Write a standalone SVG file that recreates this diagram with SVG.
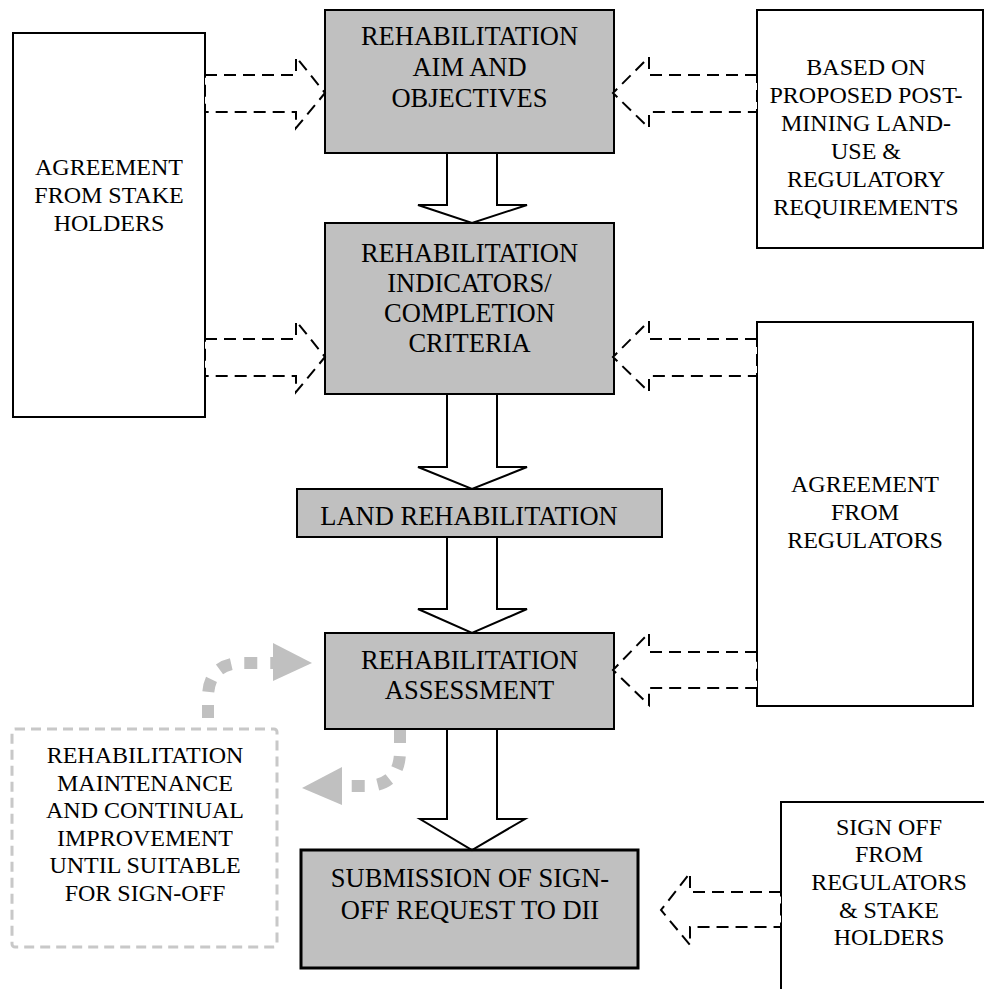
<svg xmlns="http://www.w3.org/2000/svg" width="984" height="989" viewBox="0 0 984 989" font-family="'Liberation Serif', 'Times New Roman', Times, serif">
<style>
text{fill:#000;text-anchor:middle}
.g{font-size:26.5px}
.w{font-size:24px}
.gb{fill:#c0c0c0;stroke:#000;stroke-width:2}
.wb{fill:#fff;stroke:#000;stroke-width:2}
.blk{fill:none;stroke:#000;stroke-width:2;stroke-linejoin:miter}
.da{fill:#fff;stroke:#000;stroke-width:2;stroke-dasharray:12 7}
.dot{fill:none;stroke:#c0c0c0;stroke-width:12;stroke-dasharray:13 13}
.hd{fill:#c0c0c0;stroke:none}
</style>
<rect width="984" height="989" fill="#fff"/>
<g id="stake">
<rect class="wb" x="13" y="33" width="192" height="384"/>
<text class="w" x="109" y="175">AGREEMENT</text>
<text class="w" x="109" y="203">FROM STAKE</text>
<text class="w" x="109" y="231">HOLDERS</text>
</g>
<g id="aim">
<rect class="gb" x="325" y="10" width="289" height="143"/>
<text class="g" x="469.5" y="45">REHABILITATION</text>
<text class="g" x="469.5" y="76">AIM AND</text>
<text class="g" x="469.5" y="107">OBJECTIVES</text>
</g>
<g id="based">
<rect class="wb" x="757" y="10" width="226" height="238"/>
<text class="w" x="866" y="75">BASED ON</text>
<text class="w" x="866" y="103">PROPOSED POST-</text>
<text class="w" x="866" y="131">MINING LAND-</text>
<text class="w" x="866" y="159">USE &amp;</text>
<text class="w" x="866" y="187">REGULATORY</text>
<text class="w" x="866" y="215">REQUIREMENTS</text>
</g>
<g id="indicators">
<rect class="gb" x="325" y="223" width="289" height="171"/>
<text class="g" x="469.5" y="262">REHABILITATION</text>
<text class="g" x="469.5" y="292">INDICATORS/</text>
<text class="g" x="469.5" y="322">COMPLETION</text>
<text class="g" x="469.5" y="352">CRITERIA</text>
</g>
<g id="regulators">
<rect class="wb" x="757" y="322" width="216" height="384"/>
<text class="w" x="865" y="492">AGREEMENT</text>
<text class="w" x="865" y="520">FROM</text>
<text class="w" x="865" y="548">REGULATORS</text>
</g>
<g id="land">
<rect class="gb" x="297" y="489" width="365" height="48"/>
<text class="g" x="469" y="525">LAND REHABILITATION</text>
</g>
<g id="assessment">
<rect class="gb" x="325" y="633" width="289" height="96"/>
<text class="g" x="469.5" y="669">REHABILITATION</text>
<text class="g" x="469.5" y="699">ASSESSMENT</text>
</g>
<g id="maintenance">
<rect x="12" y="729" width="265" height="218" rx="3" fill="none" stroke="#c8c8c8" stroke-width="3" stroke-dasharray="10 6"/>
<text class="w" x="145" y="763">REHABILITATION</text>
<text class="w" x="145" y="791">MAINTENANCE</text>
<text class="w" x="145" y="818">AND CONTINUAL</text>
<text class="w" x="145" y="846">IMPROVEMENT</text>
<text class="w" x="145" y="873">UNTIL SUITABLE</text>
<text class="w" x="145" y="901">FOR SIGN-OFF</text>
</g>
<g id="submission">
<rect x="301" y="850" width="337" height="118" fill="#c0c0c0" stroke="#000" stroke-width="3"/>
<text class="g" x="470" y="887">SUBMISSION OF SIGN-</text>
<text class="g" x="470" y="919">OFF REQUEST TO DII</text>
</g>
<g id="signoff">
<rect class="wb" x="781" y="802" width="220" height="200"/>
<text class="w" x="889" y="835">SIGN OFF</text>
<text class="w" x="889" y="862">FROM</text>
<text class="w" x="889" y="890">REGULATORS</text>
<text class="w" x="889" y="918">&amp; STAKE</text>
<text class="w" x="889" y="945">HOLDERS</text>
</g>
<g id="connectors">
<path class="blk" d="M447,153 L447,205 L418,205 L472,223 L527,205 L497,205 L497,153"/>
<path class="blk" d="M447,394 L447,467 L418,467 L472,489 L527,467 L497,467 L497,394"/>
<path class="blk" d="M447,537 L447,609 L418,609 L472,633 L527,609 L497,609 L497,537"/>
<path class="blk" d="M447,729 L447,819 L420,819 L472,850 L525,819 L497,819 L497,729"/>
<path class="da" d="M205,75 L296,75 L296,57 L325,93 L296,128 L296,112 L205,112 Z"/>
<path class="da" d="M205,339 L296,339 L296,321 L325,357 L296,392 L296,376 L205,376 Z"/>
<path class="da" d="M757,75 L649,75 L649,57 L613,93 L649,128 L649,112 L757,112 Z"/>
<path class="da" d="M757,339 L649,339 L649,321 L613,357 L649,392 L649,376 L757,376 Z"/>
<path class="da" d="M757,652 L649,652 L649,633 L613,670 L649,705 L649,688 L757,688 Z"/>
<path class="da" d="M781,892 L690,892 L690,873 L661,910 L690,945 L690,927 L781,927 Z"/>
<path class="dot" d="M208,718 L208,698 Q208,663 243,663 L273,663"/>
<polygon class="hd" points="273,643 312,663 273,681"/>
<path class="dot" d="M400,730 L400,751 Q400,786 365,786 L343,786"/>
<polygon class="hd" points="342,767 302,788 342,805"/>
</g>
</svg>
